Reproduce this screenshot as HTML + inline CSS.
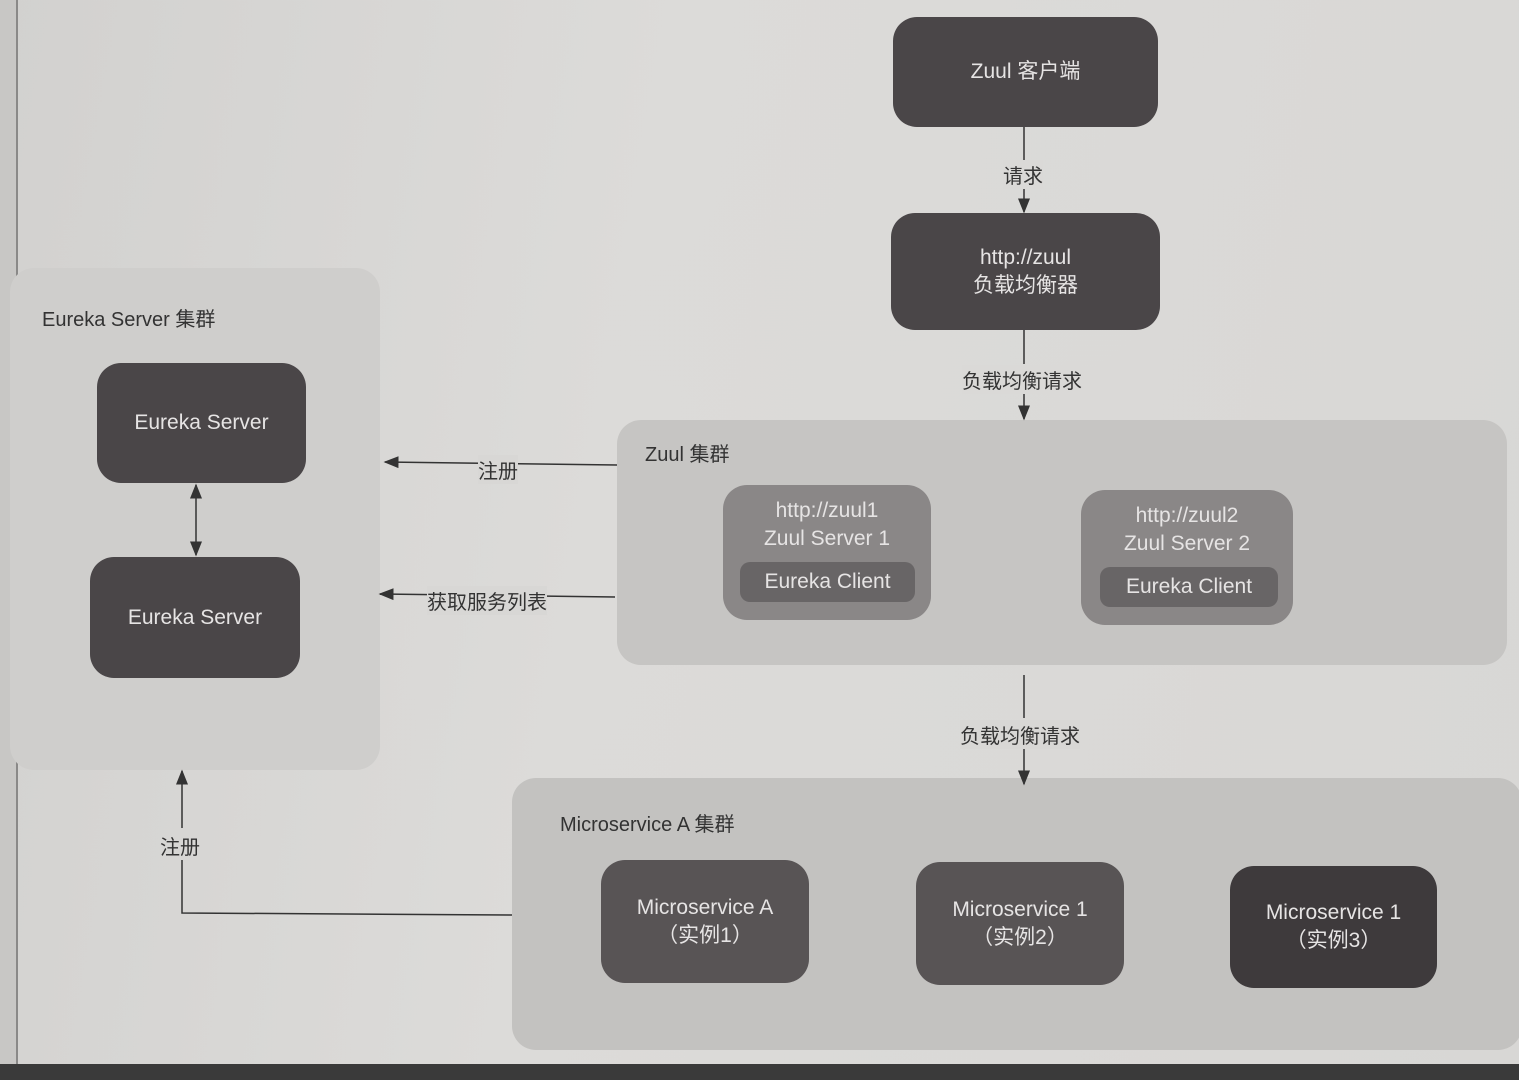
<!DOCTYPE html>
<html><head><meta charset="utf-8"><style>
html,body{margin:0;padding:0}
body{width:1519px;height:1080px;position:relative;overflow:hidden;background:linear-gradient(100deg,#d2d1cf 0%,#dcdbd9 40%,#d8d7d5 100%);font-family:"Liberation Sans","Noto Sans CJK SC",sans-serif}
.b{position:absolute;border-radius:24px;color:#e6e4e4;display:flex;align-items:center;justify-content:center;text-align:center;font-size:21px;line-height:28px}
.c{position:absolute;border-radius:24px}
.t{position:absolute;font-size:20px;color:#333;white-space:nowrap}
</style></head><body>
<div style="position:absolute;left:0;top:0;width:16px;height:1080px;background:#c8c7c5"></div>
<div style="position:absolute;left:16px;top:0;width:2px;height:1080px;background:#8a8988"></div>
<div style="position:absolute;left:0;top:1064px;width:1519px;height:16px;background:#3a3a3a"></div>

<div class="c" style="left:10px;top:268px;width:370px;height:502px;background:#cfcecc"></div>
<div class="t" style="left:42px;top:303px">Eureka Server 集群</div>
<div class="b" style="left:97px;top:363px;width:209px;height:120px;background:#4a4648">Eureka Server</div>
<div class="b" style="left:90px;top:557px;width:210px;height:121px;background:#4a4648">Eureka Server</div>

<div class="c" style="left:617px;top:420px;width:890px;height:245px;background:#c6c5c3"></div>
<div class="t" style="left:645px;top:438px">Zuul 集群</div>
<div class="b" style="left:723px;top:485px;width:208px;height:135px;background:#8a8787;align-items:flex-start;padding-top:12px;box-sizing:border-box">http://zuul1<br>Zuul Server 1</div>
<div class="b" style="left:740px;top:562px;width:175px;height:40px;border-radius:10px;background:#686566">Eureka Client</div>
<div class="b" style="left:1081px;top:490px;width:212px;height:135px;background:#8a8787;align-items:flex-start;padding-top:12px;box-sizing:border-box">http://zuul2<br>Zuul Server 2</div>
<div class="b" style="left:1100px;top:567px;width:178px;height:40px;border-radius:10px;background:#686566">Eureka Client</div>

<div class="c" style="left:512px;top:778px;width:1010px;height:272px;background:#c3c2c0"></div>
<div class="t" style="left:560px;top:808px">Microservice A 集群</div>
<div class="b" style="left:601px;top:860px;width:208px;height:123px;background:#585455">Microservice A<br>（实例1）</div>
<div class="b" style="left:916px;top:862px;width:208px;height:123px;background:#585455">Microservice 1<br>（实例2）</div>
<div class="b" style="left:1230px;top:866px;width:207px;height:122px;background:#3e3a3c">Microservice 1<br>（实例3）</div>

<div class="b" style="left:893px;top:17px;width:265px;height:110px;background:#4a4648">Zuul 客户端</div>
<div class="b" style="left:891px;top:213px;width:269px;height:117px;background:#4a4648">http://zuul<br>负载均衡器</div>

<svg width="1519" height="1080" style="position:absolute;left:0;top:0">
<defs><marker id="a" markerWidth="10" markerHeight="10" refX="9" refY="5" orient="auto-start-reverse"><path d="M0,1 L10,5 L0,9z" fill="#333"/></marker></defs>
<g stroke="#333" stroke-width="1.5" fill="none">
<line x1="1024" y1="127" x2="1024" y2="160"/><line x1="1024" y1="186" x2="1024" y2="212" marker-end="url(#a)"/>
<line x1="1024" y1="330" x2="1024" y2="364"/><line x1="1024" y1="392" x2="1024" y2="419" marker-end="url(#a)"/>
<line x1="1024" y1="675" x2="1024" y2="718"/><line x1="1024" y1="746" x2="1024" y2="784" marker-end="url(#a)"/>
<line x1="617" y1="465" x2="385" y2="462" marker-end="url(#a)"/>
<line x1="615" y1="597" x2="380" y2="594" marker-end="url(#a)"/>
<line x1="196" y1="485" x2="196" y2="555" marker-start="url(#a)" marker-end="url(#a)"/>
<polyline points="512,915 182,913 182,860"/><line x1="182" y1="828" x2="182" y2="771" marker-end="url(#a)"/>
</g></svg>
<div class="t" style="left:1003px;top:160px;background:#dad9d7">请求</div>
<div class="t" style="left:962px;top:365px;background:#dad9d7">负载均衡请求</div>
<div class="t" style="left:960px;top:720px;background:#d8d7d5">负载均衡请求</div>
<div class="t" style="left:478px;top:455px;background:#d8d7d5">注册</div>
<div class="t" style="left:427px;top:586px;background:#d8d7d5">获取服务列表</div>
<div class="t" style="left:160px;top:831px">注册</div>
</body></html>
